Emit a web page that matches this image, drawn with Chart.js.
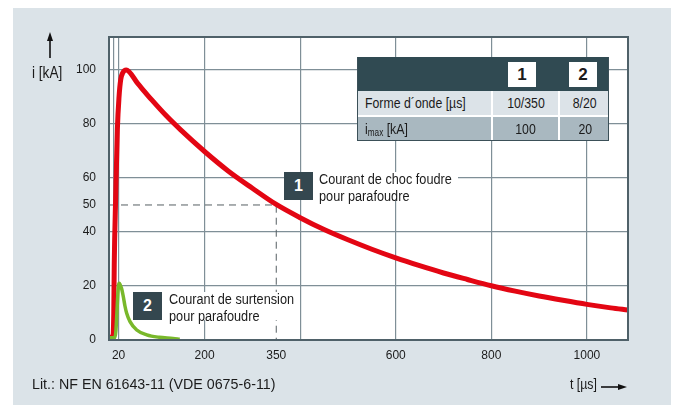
<!DOCTYPE html>
<html>
<head>
<meta charset="utf-8">
<script src="https://cdn.jsdelivr.net/npm/chart.js@4.4.1/dist/chart.umd.min.js"></script>
<style>
  html, body { margin: 0; padding: 0; background: #fff; }
  #wrap { position: relative; width: 675px; height: 405px; overflow: hidden;
          font-family: 'Liberation Sans', Arial, sans-serif; color: #1b1b1b; }
  #panel { position: absolute; left: 13px; top: 8px; width: 658px; height: 397px; background: #dbe3e8; }
  #chart { position: absolute; left: 0; top: 0; }
  /* the original uses a condensed face, so squeeze the text */
  .nar { display: inline-block; transform: scaleX(0.82); transform-origin: 0 0; white-space: nowrap; }
  .txt { position: absolute; font-size: 15px; line-height: 17px; white-space: nowrap; }
  .callout { position: absolute; background: #fff; height: 28px; }
  .callout .num { position: absolute; left: 0; top: 0; width: 29px; height: 28px; background: #34474f;
                  color: #fff; font-weight: bold; font-size: 16px; line-height: 28px; text-align: center; }
  .callout .lines { position: absolute; top: -1px; font-size: 15.5px; line-height: 16.5px; }
  #table { position: absolute; left: 357px; top: 57px; width: 250px; border: 1px solid #3b5058; border-top: none;
           font-size: 15px; }
  #table .row { position: relative; }
  #table .head { height: 34px; background: #304a52; }
  #table .r1 { height: 24px; background: #dce3e8; border-bottom: 2px solid #fff; }
  #table .r2 { height: 23px; background: #a9b8c0; }
  #table .c { position: absolute; top: 0; height: 100%; line-height: 24px; }
  #table .box { position: absolute; top: 5px; width: 28px; height: 25px; background: #fff; color: #1b1b1b;
                font-weight: bold; font-size: 17px; line-height: 25px; text-align: center; }
  #table .v1 { left: 133px; width: 66px; text-align: center; border-left: 2px solid #fff; }
  #table .v2 { left: 200px; width: 50px; text-align: center; border-left: 2px solid #fff; }
  #table .v1 .nar, #table .v2 .nar { transform-origin: 50% 0; }
  sub { font-size: 10px; vertical-align: -2px; }
</style>
</head>
<body>
<div id="wrap">
  <div id="panel"></div>
  <canvas id="chart" width="675" height="405"></canvas>

  <div class="txt" style="left:32px; top:64px; font-size:16px;"><span class="nar" style="transform:scaleX(0.85)">i [kA]</span></div>

  <div id="table">
    <div class="row head">
      <div class="box" style="left:150px;">1</div>
      <div class="box" style="left:211px;">2</div>
    </div>
    <div class="row r1">
      <div class="c" style="left:7px;"><span class="nar">Forme d´onde [µs]</span></div>
      <div class="c v1"><span class="nar">10/350</span></div>
      <div class="c v2"><span class="nar">8/20</span></div>
    </div>
    <div class="row r2">
      <div class="c" style="left:7px;"><span class="nar">i<sub>max</sub> [kA]</span></div>
      <div class="c v1"><span class="nar">100</span></div>
      <div class="c v2"><span class="nar">20</span></div>
    </div>
  </div>

  <div class="callout" style="left:284px; top:172px; width:174px;">
    <div class="num">1</div>
    <div class="lines" style="left:35px;"><span class="nar">Courant de choc foudre<br>pour parafoudre</span></div>
  </div>

  <div class="callout" style="left:133px; top:292px; width:162px;">
    <div class="num">2</div>
    <div class="lines" style="left:36px;"><span class="nar">Courant de surtension<br>pour parafoudre</span></div>
  </div>

  <div class="txt" style="left:32px; top:375px;"><span class="nar" style="transform:scaleX(0.95)">Lit.: NF EN 61643-11 (VDE 0675-6-11)</span></div>
  <div class="txt" style="left:570px; top:375px;"><span class="nar">t [µs]</span></div>
</div>

<script>
// 10/350 wave (red)
var redTime = [0, 8, 10, 11, 14, 17.5, 21, 24.5, 29, 36, 60, 90, 120, 150, 200, 250, 300, 350, 400, 450, 500,
               550, 600, 650, 700, 750, 800, 850, 900, 950, 1000, 1050, 1086];
var redCurrent = [1, 1.2, 10, 28, 53, 78, 90, 96.4, 99, 100, 95, 88.8, 83, 77.8, 69.8, 62.5, 56.2, 50.2, 45.3, 40.9, 37.1,
                  33.6, 30.4, 27.5, 24.8, 22.4, 20.1, 18.1, 16.3, 14.7, 13.2, 11.9, 11.1];

// 8/20 wave (green)
var greenTime = [0, 12, 14.5, 16.5, 18.5, 20, 21.5, 23.5, 26.5, 30, 33.5, 37, 44, 58, 79, 105, 134, 148];
var greenCurrent = [0.8, 0.8, 3.5, 10, 17, 20.3, 21, 20.4, 19, 16, 12.5, 9.9, 6.8, 3.7, 1.9, 1, 0.6, 0.3];

// half value marker
var halfTime = [0, 350, 350];
var halfCurrent = [50, 50, 0];

// axes
var xTickLabels = [20, 200, 350, 600, 800, 1000];
var xGridValues = [10, 20, 200, 400, 600, 800, 1000];
var yTickLabels = [0, 20, 40, 50, 60, 80, 100];
var yGridValues = [20, 40, 60, 80, 100];

function toPoints(xs, ys) {
    return xs.map(function (x, i) { return { x: x, y: ys[i] }; });
}

function unique(a) {
    return a.filter(function (v, i) { return a.indexOf(v) === i; }).sort(function (p, q) { return p - q; });
}

var fontFamily = "'Liberation Sans', Arial, sans-serif";
var gridColor = '#7f8f97';

var framePlugin = {
    id: 'frame',
    beforeDraw: function (chart) {
        var a = chart.chartArea, ctx = chart.ctx;
        ctx.save();
        ctx.fillStyle = '#ffffff';
        ctx.fillRect(a.left, a.top, a.right - a.left, a.bottom - a.top);
        ctx.restore();
    },
    afterDatasetsDraw: function (chart) {
        var a = chart.chartArea, ctx = chart.ctx;
        ctx.save();
        ctx.strokeStyle = '#4f6169';
        ctx.lineWidth = 2;
        ctx.strokeRect(a.left, a.top, a.right - a.left, a.bottom - a.top);

        // axis arrows
        ctx.strokeStyle = '#111';
        ctx.fillStyle = '#111';
        ctx.lineWidth = 1.6;
        ctx.beginPath();
        ctx.moveTo(50, 58); ctx.lineTo(50, 38);
        ctx.stroke();
        ctx.beginPath();
        ctx.moveTo(50, 32); ctx.lineTo(47, 41); ctx.lineTo(53, 41); ctx.closePath();
        ctx.fill();

        ctx.beginPath();
        ctx.moveTo(601, 387); ctx.lineTo(620, 387);
        ctx.stroke();
        ctx.beginPath();
        ctx.moveTo(627, 387); ctx.lineTo(618, 384); ctx.lineTo(618, 390); ctx.closePath();
        ctx.fill();
        ctx.restore();
    }
};

document.addEventListener('DOMContentLoaded', function () {
    var ctx = document.getElementById('chart').getContext('2d');
    new Chart(ctx, {
        type: 'line',
        data: {
            datasets: [{
                label: '8/20',
                data: toPoints(greenTime, greenCurrent),
                borderColor: '#79b82b',
                borderWidth: 3.5,
                pointRadius: 0,
                cubicInterpolationMode: 'monotone',
                order: 0
            }, {
                label: '10/350',
                data: toPoints(redTime, redCurrent),
                borderColor: '#e30613',
                borderWidth: 5,
                pointRadius: 0,
                cubicInterpolationMode: 'monotone',
                order: 1
            }, {
                label: 'half',
                data: toPoints(halfTime, halfCurrent),
                borderColor: '#555f63',
                borderWidth: 1,
                borderDash: [7, 5],
                pointRadius: 0,
                tension: 0,
                order: 2
            }]
        },
        options: {
            responsive: false,
            animation: false,
            layout: { padding: { left: 0, top: 37, right: 47, bottom: 0 } },
            plugins: { legend: { display: false }, tooltip: { enabled: false } },
            scales: {
                x: {
                    type: 'linear',
                    min: 0,
                    max: 1086,
                    afterFit: function (s) { s.height = 65; },
                    afterBuildTicks: function (s) {
                        s.ticks = unique(xTickLabels.concat(xGridValues)).map(function (v) { return { value: v }; });
                    },
                    border: { display: false },
                    grid: {
                        drawTicks: false,
                        lineWidth: 1.2,
                        color: function (c) {
                            return c.tick && xGridValues.indexOf(c.tick.value) >= 0 ? gridColor : 'rgba(0,0,0,0)';
                        }
                    },
                    ticks: {
                        autoSkip: false,
                        maxRotation: 0,
                        padding: 8,
                        color: '#1b1b1b',
                        font: { family: fontFamily, size: 12 },
                        callback: function (v) { return xTickLabels.indexOf(v) >= 0 ? String(v) : ''; }
                    }
                },
                y: {
                    min: 0,
                    max: 112.2,
                    afterFit: function (s) { s.width = 109; },
                    afterBuildTicks: function (s) {
                        s.ticks = yTickLabels.map(function (v) { return { value: v }; });
                    },
                    border: { display: false },
                    grid: {
                        drawTicks: false,
                        lineWidth: 1.2,
                        color: function (c) {
                            return c.tick && yGridValues.indexOf(c.tick.value) >= 0 ? gridColor : 'rgba(0,0,0,0)';
                        }
                    },
                    ticks: {
                        autoSkip: false,
                        padding: 13,
                        color: '#1b1b1b',
                        font: { family: fontFamily, size: 12 },
                        callback: function (v) { return String(v); }
                    }
                }
            }
        },
        plugins: [framePlugin]
    });
});
</script>
</body>
</html>
